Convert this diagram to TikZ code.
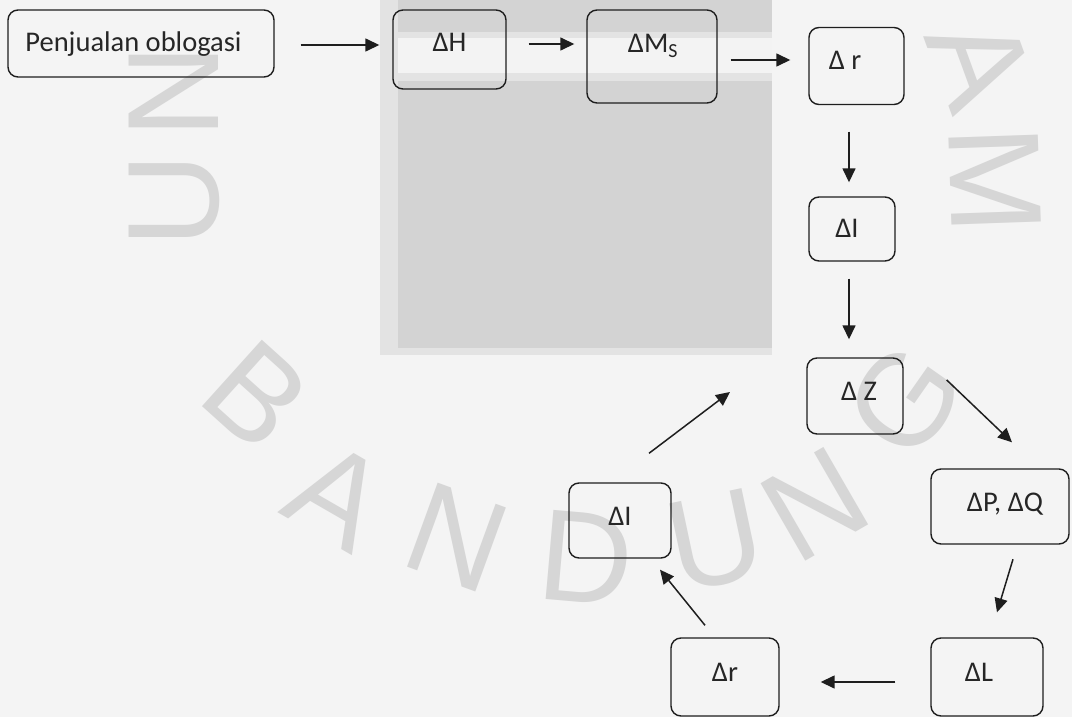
\documentclass[tikz,border=0pt]{standalone}
\usepackage{fontspec}
\setmainfont{Carlito}
\newfontfamily\wmfont{Liberation Sans}
\usetikzlibrary{arrows.meta,calc}
\definecolor{ink}{HTML}{1E1E1E}
\definecolor{txt}{HTML}{262626}
\definecolor{wm}{HTML}{D6D6D6}
\definecolor{paper}{HTML}{F4F4F4}
\definecolor{slab}{HTML}{D3D3D3}
\definecolor{slabedge}{HTML}{E3E3E3}
\definecolor{band}{HTML}{F3F3F3}
\begin{document}
\begin{tikzpicture}[x=1pt,y=-1pt,
  box/.style={draw=ink, line width=1.4pt, rounded corners=10pt, inner sep=0pt},
  lbl/.style={text=txt, font=\fontsize{28.5}{32}\selectfont, inner sep=0pt, anchor=base},
  arr/.style={draw=ink, line width=1.5pt, -{Triangle[length=14pt,width=13pt]}},
  wmk/.style={text=wm, font=\wmfont\fontsize{130}{130}\selectfont, inner sep=0pt}]

% page and background shading
\fill[paper] (0,0) rectangle (1072,717);
\useasboundingbox (0,0) rectangle (1072,717);
\fill[slabedge] (380,0) rectangle (772,355);
\fill[slab] (398,0) rectangle (772,348);
\fill[slabedge] (398,32) rectangle (772,81);
\fill[band] (398,38) rectangle (772,73);

% faint lettering behind the chart
\node[wmk, rotate=90]  (wN1) at (174,92)  {N};
\node[wmk, rotate=90]  (wU1) at (174,201) {U};
\node[wmk, rotate=-70] (wA1) at (980,62)  {A};
\node[wmk, rotate=-88] (wM1) at (995,180) {M};
\node[wmk, rotate=-42] (wB)  at (257,395) {B};
\node[wmk, rotate=-30] (wA2) at (337,495) {A};
\node[wmk, rotate=-20] (wN2) at (457,538) {N};
\node[wmk, rotate=-5]  (wD)  at (586,558) {D};
\node[wmk, rotate=12]  (wU2) at (715,541) {U};
\node[wmk, rotate=30]  (wN3) at (815,504) {N};
\node[wmk, rotate=55]  (wG)  at (905,400) {G};

% boxes
\node[box, minimum width=266pt, minimum height=67pt] (b1)  at (141,43.5) {};
\node[box, minimum width=113pt, minimum height=79pt] (bH)  at (449.5,49.5) {};
\node[box, minimum width=130pt, minimum height=93pt] (bM)  at (652,56.5) {};
\node[box, minimum width=95pt,  minimum height=77pt] (br1) at (856.5,66) {};
\node[box, minimum width=86pt,  minimum height=64pt] (bI1) at (852,229) {};
\node[box, minimum width=96pt,  minimum height=76pt] (bZ)  at (855,396) {};
\node[box, minimum width=138pt, minimum height=75pt] (bPQ) at (1000,506.5) {};
\node[box, minimum width=112pt, minimum height=78pt] (bL)  at (987,677) {};
\node[box, minimum width=108pt, minimum height=78pt] (br2) at (725,677) {};
\node[box, minimum width=102pt, minimum height=75pt] (bI2) at (620,520.5) {};

% labels
\node[lbl] (t1)  at (133.5,52) {Penjualan oblogasi};
\node[lbl] (tH)  at (449.5,52) {ΔH};
\node[lbl] (tM)  at (653,53)   {ΔM\textsubscript{S}};
\node[lbl] (tr1) at (845,69.5) {Δ r};
\node[lbl] (tI1) at (847,237)  {ΔI};
\node[lbl] (tZ)  at (859,400)  {Δ Z};
\node[lbl] (tPQ) at (1005,511) {ΔP, ΔQ};
\node[lbl] (tL)  at (979,681)  {ΔL};
\node[lbl] (tr2) at (725,681)  {Δr};
\node[lbl] (tI2) at (620,525)  {ΔI};

% free end of the last arrow
\coordinate (zin) at (730,392);

% connectors
\draw[arr] ($(b1.east)+(26,1.5)$)    -- ($(bH.west)+(-13,-4.5)$);
\draw[arr] ($(bH.east)+(22,-5.5)$)   -- ($(bM.west)+(-12,-12.5)$);
\draw[arr] ($(bM.east)+(13,3.5)$)    -- ($(br1.west)+(-18,-6)$);
\draw[arr] ($(br1.south)+(-7.5,26.5)$) -- ($(bI1.north)+(-3,-14)$);
\draw[arr] ($(bI1.south)+(-3,17)$)   -- ($(bZ.north)+(-6,-18)$);
\draw[arr] ($(bZ.east)+(43,-16)$)    -- ($(bPQ.north)+(12,-26)$);
\draw[arr] ($(bPQ.south)+(13,14.5)$) -- ($(bL.north)+(10,-25)$);
\draw[arr] ($(bL.west)+(-35,5)$)     -- ($(br2.east)+(41,5)$);
\draw[arr] ($(br2.north)+(-20,-12)$) -- ($(bI2.south)+(40,11)$);
\draw[arr] ($(bI2.north)+(29,-29)$)  -- (zin);
\end{tikzpicture}
\end{document}
